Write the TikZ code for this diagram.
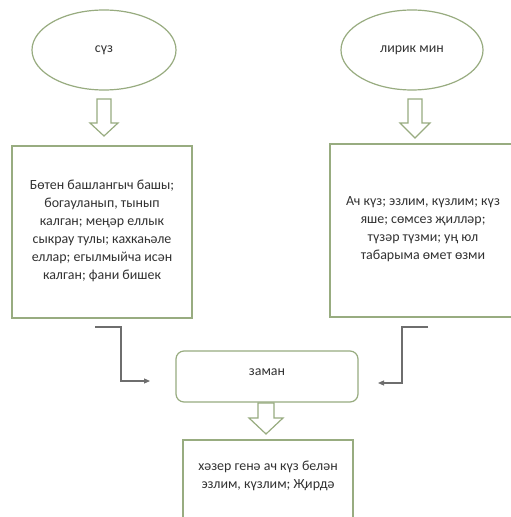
\documentclass[tikz,border=0pt]{standalone}
\usepackage{fontspec}
\setmainfont{Carlito}
\usetikzlibrary{arrows.meta}
\definecolor{edgegreen}{RGB}{152,172,128}
\definecolor{txtgray}{RGB}{50,50,50}
\definecolor{linegray}{RGB}{110,110,110}
\tikzset{
  x=1bp, y=-1bp,
  oval/.style={draw=edgegreen, line width=1.2bp},
  txt/.style={text=txtgray, font=\fontsize{14}{18.2}\selectfont, align=center, inner sep=0pt},
  sqbox/.style={draw=edgegreen, line width=1.3bp, fill=white},
  blockarrow/.style={draw=edgegreen, line width=1.2bp, fill=white, line join=miter},
  conn/.style={draw=linegray, line width=1.1bp, -{Triangle[length=6bp,width=5bp]}},
}
\begin{document}
\begin{tikzpicture}
\useasboundingbox (0,0) rectangle (511,517);
\clip (0,0) rectangle (511,517);
\fill[white] (0,0) rectangle (511,517);
% ellipses
\draw[oval] (104,50) ellipse [x radius=72, y radius=40];
\node[txt] (suz) at (104,50) {сүз};
\draw[oval] (412,50) ellipse [x radius=71, y radius=40];
\node[txt] (lirik) at (412,50) {лирик мин};
% block arrows
\draw[blockarrow] (97,99) -- (111,99) -- (111,123) -- (118,123) -- (104,136) -- (90,123) -- (97,123) -- cycle;
\draw[blockarrow] (408,99) -- (422,99) -- (422,123) -- (430,123) -- (415,138) -- (400,123) -- (408,123) -- cycle;
% text boxes
\draw[sqbox] (12,146) rectangle (192,318);
\node[txt] (left) at (102,231) {Бөтен башлангыч башы;\\богауланып, тынып\\калган; меңәр еллык\\сыкрау тулы; кахкаһәле\\еллар; егылмыйча исән\\калган; фани бишек};
\draw[sqbox] (330,144) rectangle (514,317);
\node[txt] (right) at (423,229) {Ач күз; эзлим, күзлим; күз\\яше; сөмсез җилләр;\\түзәр түзми; уң юл\\табарыма өмет өзми};
% zaman
\draw[draw=edgegreen, line width=1.2bp, rounded corners=8bp] (176,351) rectangle (358,402);
\node[txt] (zaman) at (267,372) {заман};
% connectors
\coordinate (lstart) at (95,327);
\coordinate (lend) at (150,381);
\coordinate (rstart) at (428,327);
\coordinate (rend) at (378,383);
\draw[conn] (lstart) -- (121,327) -- (121,381) -- (lend);
\draw[conn] (rstart) -- (402,327) -- (402,383) -- (rend);
% bottom arrow
\draw[blockarrow] (258,403) -- (274,403) -- (274,418) -- (283,418) -- (266,434) -- (249,418) -- (258,418) -- cycle;
% bottom box
\draw[sqbox] (183,440) rectangle (353,530);
\node[txt] (bottom) at (268,476) {хәзер генә ач күз белән\\эзлим, күзлим; Җирдә};
\end{tikzpicture}
\end{document}
